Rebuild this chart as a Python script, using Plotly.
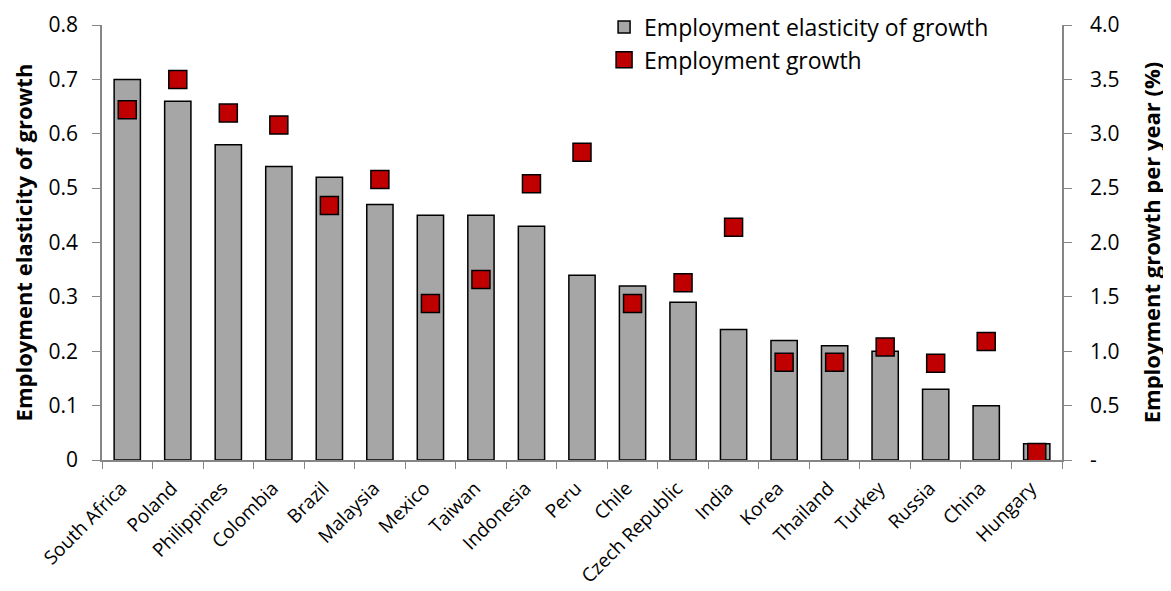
import plotly.graph_objects as go

countries = ["South Africa", "Poland", "Philippines", "Colombia", "Brazil", "Malaysia",
             "Mexico", "Taiwan", "Indonesia", "Peru", "Chile", "Czech Republic", "India",
             "Korea", "Thailand", "Turkey", "Russia", "China", "Hungary"]
elasticity = [0.70, 0.66, 0.58, 0.54, 0.52, 0.47, 0.45, 0.45, 0.43, 0.34, 0.32, 0.29,
              0.24, 0.22, 0.21, 0.20, 0.13, 0.10, 0.03]
emp_growth = [3.22, 3.50, 3.19, 3.08, 2.34, 2.58, 1.44, 1.66, 2.54, 2.83, 1.44, 1.63,
              2.14, 0.90, 0.90, 1.04, 0.89, 1.09, 0.07]
left_ticks = [0, 0.1, 0.2, 0.3, 0.4, 0.5, 0.6, 0.7, 0.8]
left_labels = ["0", "0.1", "0.2", "0.3", "0.4", "0.5", "0.6", "0.7", "0.8"]
right_ticks = [0, 0.5, 1.0, 1.5, 2.0, 2.5, 3.0, 3.5, 4.0]
right_labels = ["-", "0.5", "1.0", "1.5", "2.0", "2.5", "3.0", "3.5", "4.0"]

FONT = "'Open Sans', sans-serif"
AXC = "#868686"

fig = go.Figure()
fig.add_trace(go.Bar(
    x=countries, y=elasticity, name="Employment elasticity of growth",
    marker=dict(color="#A6A6A6", line=dict(color="black", width=1.5)),
    width=0.52, yaxis="y"))
fig.add_trace(go.Scatter(
    x=countries, y=emp_growth, name="Employment growth", mode="markers",
    marker=dict(symbol="square", size=18, color="#C00000", line=dict(color="black", width=1.5)),
    yaxis="y2"))

fig.update_layout(
    width=1171, height=591,
    margin=dict(l=94, r=117, t=17, b=139, autoexpand=False),
    plot_bgcolor="white", paper_bgcolor="white",
    font=dict(family=FONT, color="black"),
    showlegend=True,
    legend=dict(x=0.523, y=1.045, xanchor="left", yanchor="top",
                font=dict(size=23, family=FONT), bgcolor="rgba(0,0,0,0)",
                tracegroupgap=0, itemwidth=30),
    xaxis=dict(type="category", range=[-0.5, len(countries) - 0.5],
               tickangle=-45, tickfont=dict(size=19, family=FONT),
               ticklabelshift=-6, ticklabelstandoff=8,
               showline=True, linecolor=AXC, linewidth=1.5,
               ticks="outside", tickson="boundaries", ticklen=7, tickcolor=AXC,
               showgrid=False),
    yaxis=dict(range=[0, 0.8], tickvals=left_ticks, ticktext=left_labels,
               tickfont=dict(size=21, family=FONT), ticklabelstandoff=10,
               showline=True, linecolor=AXC, linewidth=1.5,
               ticks="outside", ticklen=8, tickcolor=AXC, showgrid=False, zeroline=False,
               title=dict(text="<b>Employment elasticity of growth</b>",
                          font=dict(size=22, family=FONT), standoff=11)),
    yaxis2=dict(range=[0, 4.0], tickvals=right_ticks, ticktext=right_labels,
                overlaying="y", side="right",
                tickfont=dict(size=21, family=FONT), ticklabelstandoff=14,
                showline=True, linecolor=AXC, linewidth=1.5,
                ticks="outside", ticklen=8, tickcolor=AXC, showgrid=False, zeroline=False,
                title=dict(text="<b>Employment growth per year (%)</b>",
                           font=dict(size=22, family=FONT), standoff=26)),
    bargap=0.48,
)

fig.write_html("out.html")
